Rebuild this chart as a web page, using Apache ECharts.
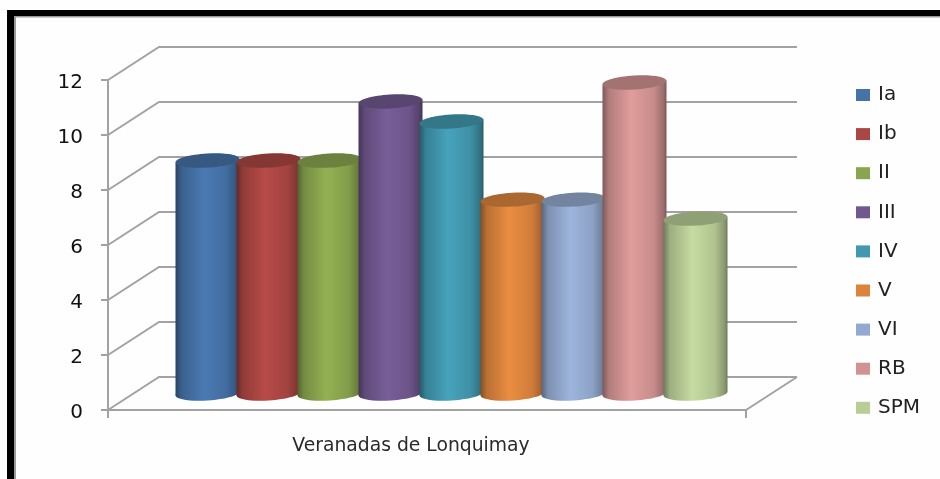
<!DOCTYPE html>
<html><head><meta charset="utf-8">
<script src="https://cdn.jsdelivr.net/npm/echarts@6/dist/echarts.min.js"></script>
<style>html,body{margin:0;padding:0;background:#fff}#c{width:940px;height:479px;filter:blur(0.45px)}</style>
</head><body><div id="c"></div>
<script>
const categories = ['Veranadas de Lonquimay'];
const seriesNames = ['Ia','Ib','II','III','IV','V','VI','RB','SPM'];
const seriesValues = [8.47,8.47,8.47,10.62,9.89,7.05,7.05,11.31,6.36];
const seriesColors = ['#4572a7','#aa4643','#89a54e','#71588f','#4198af','#db843d','#93a9cf','#d19392','#b9cd96'];
const yTicks = [0,2,4,6,8,10,12];

const DEPTH_X = 51, DEPTH_Y = -33, STEP = 61, RX = 32, RY = 7, TILT = 0.06;
const LINE = '#a2a2a2';

function shade(hex, f){
  const n = parseInt(hex.slice(1),16);
  const c = [n>>16,(n>>8)&255,n&255].map(v=>Math.min(255,Math.round(v*f)));
  return 'rgb('+c.join(',')+')';
}
function wallItem(params, api){
  const v = api.value(1);
  const p = api.coord([0, v]);
  const band = api.size([1,0])[0];
  const x0 = p[0]-band/2, y0 = p[1];
  const pts = [[x0,y0],[x0+DEPTH_X,y0+DEPTH_Y],[x0+band+DEPTH_X,y0+DEPTH_Y]];
  const kids = [{type:'polyline',shape:{points:pts},style:{stroke:LINE,lineWidth:2,fill:null}}];
  if (v === 0) kids.push({type:'line',shape:{x1:x0+band,y1:y0,x2:x0+band+DEPTH_X,y2:y0+DEPTH_Y},style:{stroke:LINE,lineWidth:2}});
  return {type:'group',children:kids};
}
function cylItem(idx){
  return function(params, api){
    const top = api.coord([0, api.value(1)]);
    const base = api.coord([0, 0]);
    const cx = top[0] + DEPTH_X/2 + (idx-(seriesNames.length-1)/2)*STEP - 1;
    const yT = top[1] + DEPTH_Y/2, yB = base[1] + DEPTH_Y/2;
    const col = seriesColors[idx];
    const rise = RX*Math.sin(TILT);
    const grad = {type:'linear',x:0,y:0,x2:1,y2:0,colorStops:[
      {offset:0,color:shade(col,.6)},{offset:.1,color:shade(col,.85)},
      {offset:.45,color:shade(col,1.07)},{offset:.8,color:shade(col,.95)},
      {offset:.95,color:shade(col,.75)},{offset:1,color:shade(col,.6)}]};
    const tilted = y => ({originX:cx,originY:y,rotation:TILT});
    return {type:'group',children:[
      Object.assign({type:'ellipse',shape:{cx:cx,cy:yB,rx:RX,ry:RY},style:{fill:grad}},tilted(yB)),
      {type:'polygon',shape:{points:[[cx-RX,yT+rise],[cx+RX,yT-rise],[cx+RX,yB-rise],[cx-RX,yB+rise]]},style:{fill:grad}},
      Object.assign({type:'ellipse',shape:{cx:cx,cy:yT,rx:RX,ry:RY},style:{fill:shade(col,.78)}},tilted(yT))
    ]};
  };
}
const series = [{
  type:'custom',name:'walls',silent:true,z:1,
  renderItem:wallItem,
  data:yTicks.map(v=>[0,v])
}];
seriesNames.forEach((n,i)=>series.push({
  type:'custom',name:n,z:2+i,
  itemStyle:{color:seriesColors[i]},
  renderItem:cylItem(i),
  encode:{x:0,y:1},
  data:[[0,seriesValues[i]]]
}));
const chart = echarts.init(document.getElementById('c'),null,{renderer:'canvas'});
chart.setOption({
  animation:false,
  backgroundColor:'#fefefe',
  textStyle:{fontFamily:'"DejaVu Sans"'},
  grid:{left:108,right:194,top:80,bottom:69},
  legend:{
    orient:'vertical',left:851,top:79,
    data:seriesNames,icon:'rect',itemWidth:14,itemHeight:12,itemGap:17.1,
    textStyle:{fontSize:20,color:'#222',lineHeight:20,padding:[2,0,0,3]}
  },
  xAxis:{
    type:'category',data:categories,name:'',
    axisLine:{onZero:false,lineStyle:{color:LINE,width:2}},
    axisTick:{show:true,length:8,alignWithLabel:false,lineStyle:{color:LINE,width:2}},
    axisLabel:{fontSize:18.75,color:'#2a2a2a',margin:27,padding:[0,32,0,0]}
  },
  yAxis:{
    type:'value',min:0,max:12,interval:2,
    axisLine:{show:true,lineStyle:{color:LINE,width:2}},
    axisTick:{show:true,length:7,lineStyle:{color:LINE,width:2}},
    axisLabel:{fontSize:20,color:'#111',margin:25,verticalAlign:'top',lineHeight:6},
    splitLine:{show:false}
  },
  graphic:[
    {type:'rect',shape:{x:7,y:10,width:7,height:469},style:{fill:'#000'},z:100},
    {type:'rect',shape:{x:14,y:16,width:2,height:463},style:{fill:'#9a9a9a'},z:100},
    {type:'rect',shape:{x:7,y:10,width:933,height:6},style:{fill:'#000'},z:100},
    {type:'rect',shape:{x:14,y:16,width:926,height:1.5},style:{fill:'#9a9a9a'},z:100}
  ],
  series:series
});
</script></body></html>
